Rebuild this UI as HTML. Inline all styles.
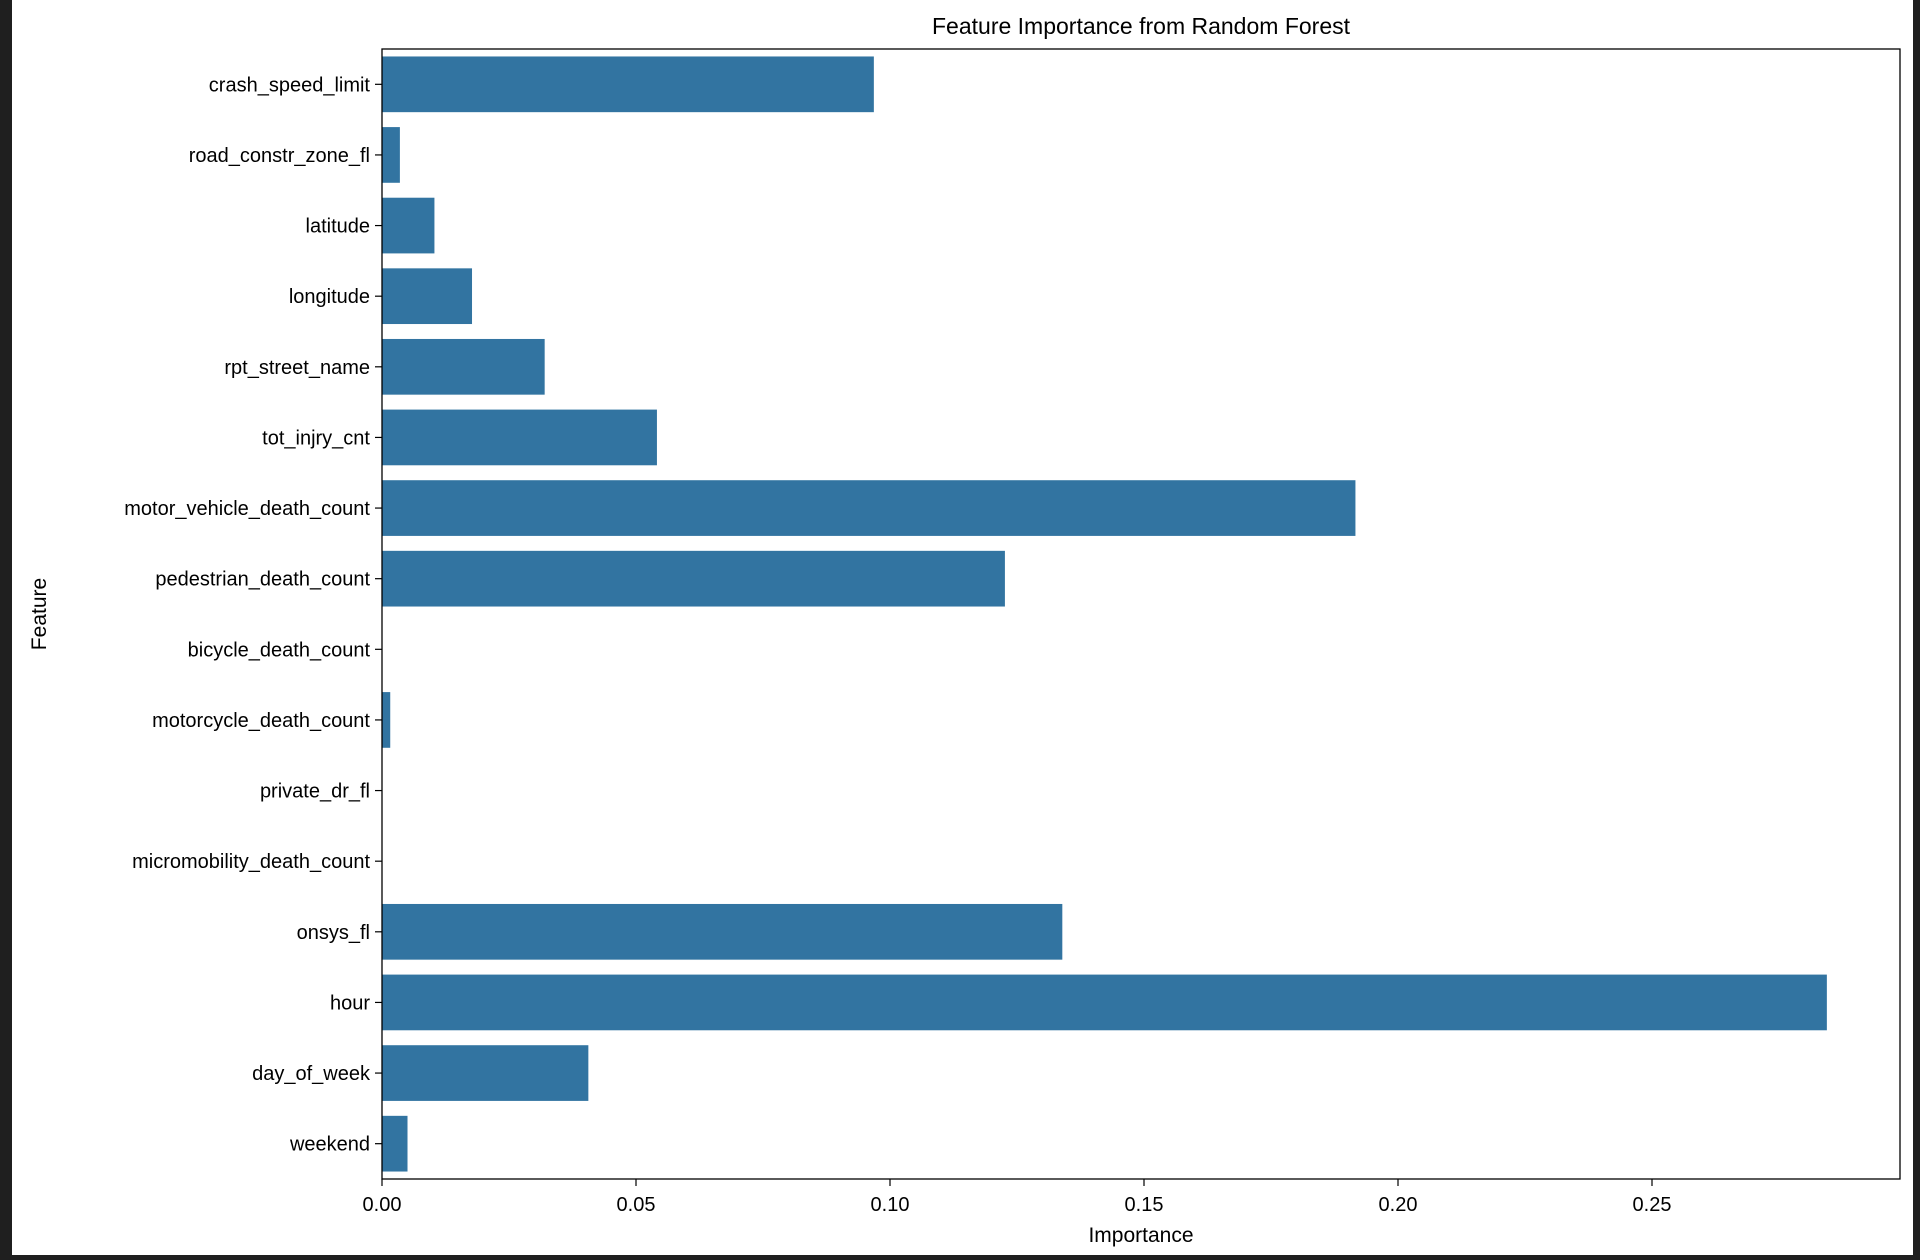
<!DOCTYPE html>
<html><head><meta charset="utf-8"><style>
html,body{margin:0;padding:0;background:#1f1f1f;width:1920px;height:1260px;overflow:hidden}
svg{position:absolute;left:0;top:0}
text{font-family:"Liberation Sans","DejaVu Sans",sans-serif;fill:#000}
</style></head><body>
<svg id="chart" width="1920" height="1260" xmlns="http://www.w3.org/2000/svg">
<rect x="12" y="0" width="1901" height="1255" fill="#fff"/>
<text x="1141" y="34" font-size="23" text-anchor="middle">Feature Importance from Random Forest</text>
<g id="bars"></g>
<g id="yticks"></g>
<g id="xticks"></g>
<rect x="382" y="49" width="1518" height="1130" fill="none" stroke="#000" stroke-width="1.3"/>
<text x="1141" y="1242" font-size="21" text-anchor="middle">Importance</text>
<text x="0" y="0" font-size="21" text-anchor="middle" transform="translate(46,614) rotate(-90)">Feature</text>
</svg>
<script>
const categories = ["crash_speed_limit","road_constr_zone_fl","latitude","longitude","rpt_street_name","tot_injry_cnt","motor_vehicle_death_count","pedestrian_death_count","bicycle_death_count","motorcycle_death_count","private_dr_fl","micromobility_death_count","onsys_fl","hour","day_of_week","weekend"];
const importance = [0.0969,0.0036,0.0104,0.0178,0.0321,0.0542,0.1917,0.1227,0,0.0017,0,0,0.134,0.2845,0.0407,0.0051];
const xTicks = [0,0.05,0.10,0.15,0.20,0.25];
const xTickLabels = ["0.00","0.05","0.10","0.15","0.20","0.25"];
const NS="http://www.w3.org/2000/svg";
const L=382,T=49,B=1179;
const xS=v=>L+v*5080;
const band=(B-T)/categories.length;
const yC=i=>T+band*(i+0.5);
const bars=document.getElementById('bars'),yt=document.getElementById('yticks'),xt=document.getElementById('xticks');
function mk(tag,attrs,parent){const e=document.createElementNS(NS,tag);for(const k in attrs)e.setAttribute(k,attrs[k]);parent.appendChild(e);return e;}
categories.forEach((c,i)=>{
  const h=band*0.8;
  const r=mk('rect',{x:L,y:yC(i)-h/2,width:Math.max(0,xS(importance[i])-L),height:h,fill:'#3274a1',stroke:'#fff','stroke-width':0.8},bars);
  
  
  const tk=mk('line',{x1:L-7,x2:L,y1:yC(i),y2:yC(i),stroke:'#000','stroke-width':1.2},yt);
  
  
  const t=mk('text',{x:L-12,y:yC(i)+7,'font-size':20,'text-anchor':'end'},yt);
  t.textContent=c;
  
  
});
xTicks.forEach((v,i)=>{
  const tk=mk('line',{x1:xS(v),x2:xS(v),y1:B,y2:B+7,stroke:'#000','stroke-width':1.2},xt);
  
  
  const t=mk('text',{x:xS(v),y:B+32,'font-size':20,'text-anchor':'middle'},xt);
  t.textContent=xTickLabels[i];
  
  
});
</script>
</body></html>
